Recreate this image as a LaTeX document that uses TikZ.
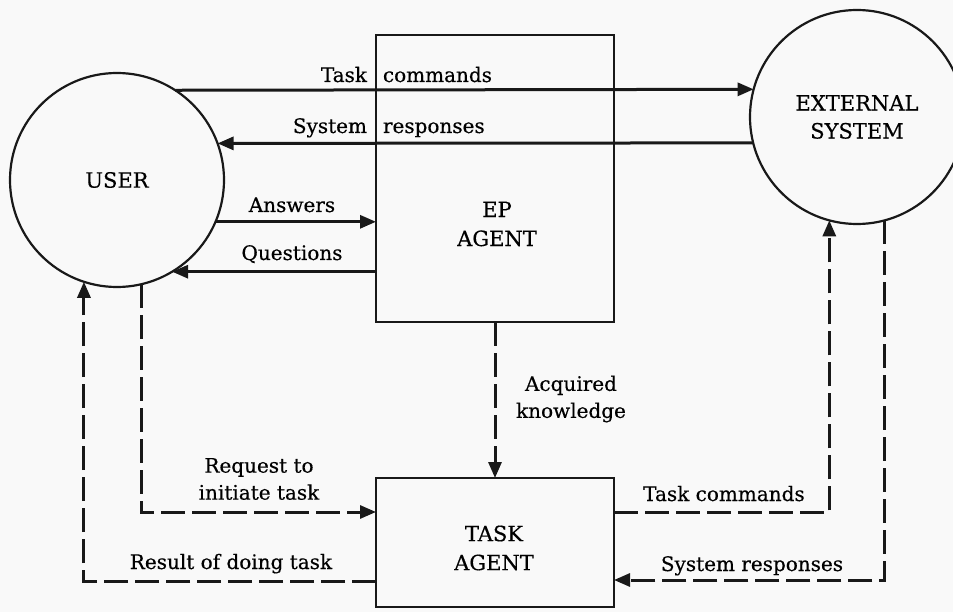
\documentclass[tikz,border=0pt]{standalone}
\usepackage{fontspec}
\setmainfont{DejaVu Serif}[FakeBold=0.45]
\usetikzlibrary{arrows.meta,calc}
\begin{document}
\begin{tikzpicture}[x=1pt,y=-1pt,
  ent/.style={draw=black!90, line width=2.2pt, inner sep=0pt, outer sep=0pt},
  circ/.style={ent, circle, minimum size=214pt, font=\fontsize{21}{28}\selectfont, align=center},
  agentbox/.style={ent, rectangle, minimum width=238pt},
  flow/.style={draw=black!90, line width=3pt, -{Triangle[length=16pt,width=13pt]}},
  dflow/.style={flow, dash pattern=on 24pt off 7pt},
  lab/.style={font=\fontsize{20}{27}\selectfont, inner sep=0pt, align=center},
  biglab/.style={font=\fontsize{21}{29}\selectfont, inner sep=0pt, align=center}
]
\useasboundingbox (0,0) rectangle (953,612);
\clip (0,0) rectangle (953,612);
\fill[gray!5] (0,0) rectangle (953,612);

% entities
\node[circ] (user) at (117,180) {USER};
\node[circ] (ext) at (857,117) {EXTERNAL\\SYSTEM};
\node[agentbox, minimum height=287pt] (ep) at (495,178.5) {};
\node[agentbox, minimum height=129pt] (task) at (495,542.5) {};
\node[biglab] (eptxt) at (497,224) {EP\\AGENT};
\node[biglab] (tasktxt) at (494,548) {TASK\\AGENT};

% solid flows
\draw[flow] (user.57.3) -- (ext.165.4);
\draw[flow] (ext.194.1) -- (user.20.2);
\draw[flow] (user.337.5) -- (user.337.5 -| ep.west);
\draw[flow] (user.301.7 -| ep.west) -- (user.301.7);

% dashed flows
\draw[dflow] (ep.south) -- (task.north);
\draw[dflow] (user.283.5) |- (task.west |- 0,512);
\draw[dflow] (task.west |- 0,581) -| (user.252.6);
\draw[dflow] (task.east |- 0,512) -| (ext.255.4);
\draw[dflow] (ext.285.7) |- (task.east |- 0,580);

% labels
\node[lab, anchor=base] (l1) at (376,82) {\llap{Task\hspace{9pt}}\rlap{\hspace{7pt}commands}};
\node[lab, anchor=base] (l2) at (376,133) {\llap{System\hspace{9pt}}\rlap{\hspace{7pt}responses}};
\node[lab, anchor=base] (l3) at (292,212) {Answers};
\node[lab, anchor=base] (l4) at (292,260) {Questions};
\node[lab] (l5) at (571,399) {Acquired\\knowledge};
\node[lab] (l6) at (259,479) {Request to\\initiate task};
\node[lab, anchor=base] (l7) at (231,569) {Result of doing task};
\node[lab, anchor=base] (l8) at (724,501) {Task commands};
\node[lab, anchor=base] (l9) at (752,571) {System responses};
\end{tikzpicture}
\end{document}
